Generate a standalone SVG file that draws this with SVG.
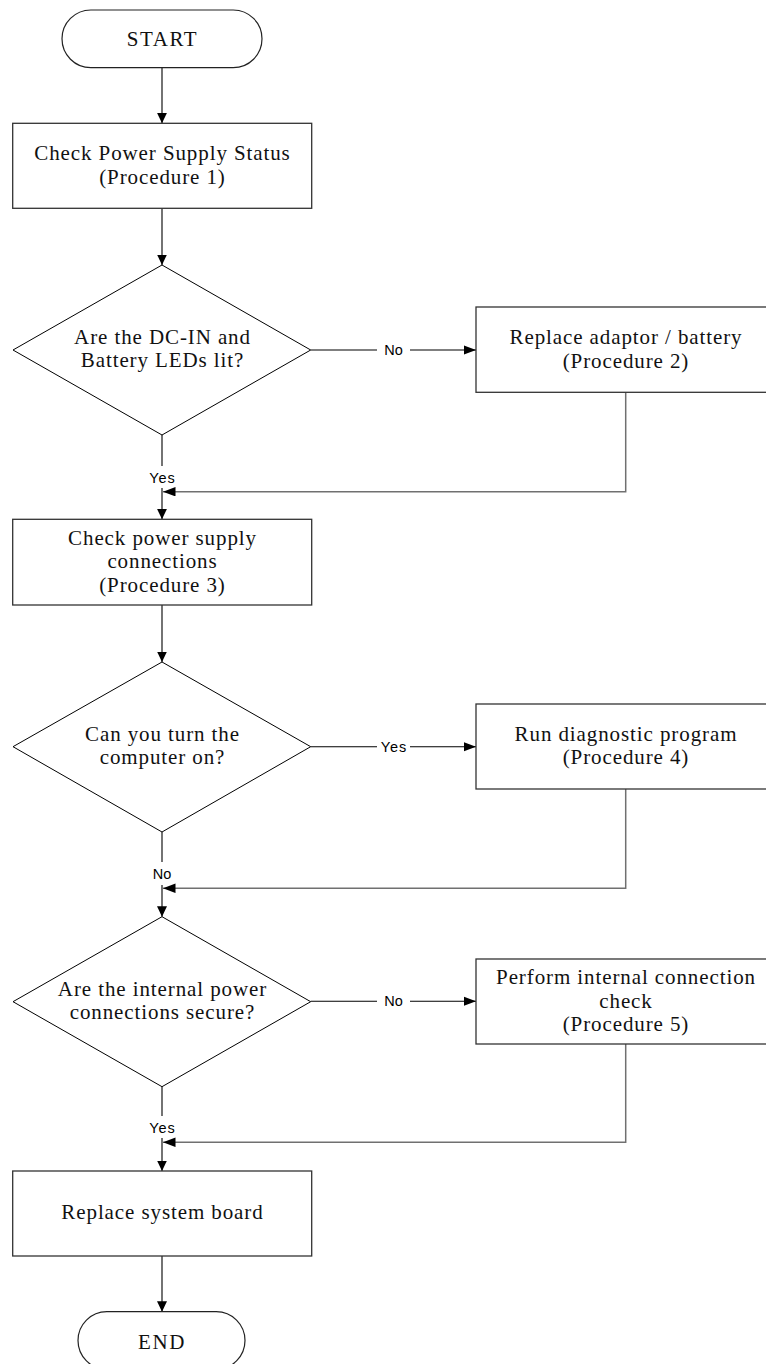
<svg xmlns="http://www.w3.org/2000/svg" width="766" height="1364" viewBox="0 0 766 1364">
<defs>
<marker id="arrV" markerUnits="userSpaceOnUse" markerWidth="11" markerHeight="11" refX="10.5" refY="5" orient="auto"><path d="M0,0 L10.5,5 L0,10 z" fill="#000"/></marker>
<marker id="arrH" markerUnits="userSpaceOnUse" markerWidth="13" markerHeight="10" refX="12.5" refY="4.75" orient="auto"><path d="M0,0 L12.5,4.75 L0,9.5 z" fill="#000"/></marker>
</defs>
<style>
.box{fill:#fff;stroke:#333;stroke-width:1.3}
.dia{fill:#fff;stroke:#000;stroke-width:1}
.term{fill:#fff;stroke:#222;stroke-width:1.2}
.t{font-family:"Liberation Serif","Times New Roman",serif;font-size:21px;letter-spacing:0.9px;fill:#111;text-anchor:middle}
.lb{font-family:"Liberation Sans",Arial,sans-serif;font-size:14.5px;fill:#000;text-anchor:middle}
.c{fill:none;stroke:#000;stroke-width:1.1}
.r{fill:none;stroke:#707070;stroke-width:1.5}
</style>
<rect width="766" height="1364" fill="#fff"/>
<g id="connectors">
<line class="c" x1="162" y1="67.7" x2="162" y2="123.3" marker-end="url(#arrV)"/>
<line class="c" x1="162" y1="208.3" x2="162" y2="265" marker-end="url(#arrV)"/>
<line class="c" x1="310.7" y1="350" x2="377" y2="350"/>
<line class="c" x1="410" y1="350" x2="476" y2="350" marker-end="url(#arrH)"/>
<text class="lb" x="393.5" y="355.2">No</text>
<line class="c" x1="162" y1="435" x2="162" y2="466"/>
<text class="lb" x="162.5" y="482.7" style="letter-spacing:1px">Yes</text>
<line class="c" x1="162" y1="488" x2="162" y2="519.3" marker-end="url(#arrV)"/>
<polyline class="r" points="625.7,392.3 625.7,491.7 163,491.7" marker-end="url(#arrH)"/>
<line class="c" x1="162" y1="605" x2="162" y2="662" marker-end="url(#arrV)"/>
<line class="c" x1="310.7" y1="746.7" x2="377" y2="746.7"/>
<line class="c" x1="410" y1="746.7" x2="476" y2="746.7" marker-end="url(#arrH)"/>
<text class="lb" x="394" y="751.9" style="letter-spacing:1px">Yes</text>
<line class="c" x1="162" y1="832" x2="162" y2="862"/>
<text class="lb" x="162" y="879.3">No</text>
<line class="c" x1="162" y1="885" x2="162" y2="916.7" marker-end="url(#arrV)"/>
<polyline class="r" points="625.7,789 625.7,888.3 163,888.3" marker-end="url(#arrH)"/>
<line class="c" x1="310.7" y1="1001.2" x2="377" y2="1001.2"/>
<line class="c" x1="410" y1="1001.2" x2="476" y2="1001.2" marker-end="url(#arrH)"/>
<text class="lb" x="393.5" y="1006.4">No</text>
<line class="c" x1="162" y1="1086.7" x2="162" y2="1116"/>
<text class="lb" x="162.5" y="1133.3" style="letter-spacing:1px">Yes</text>
<line class="c" x1="162" y1="1138" x2="162" y2="1171" marker-end="url(#arrV)"/>
<polyline class="r" points="625.7,1044 625.7,1142.3 163,1142.3" marker-end="url(#arrH)"/>
<line class="c" x1="162" y1="1256" x2="162" y2="1311.7" marker-end="url(#arrV)"/>
</g>
<g id="start">
<rect class="term" x="62" y="10" width="200" height="57.7" rx="28.85"/>
<text class="t" x="162.5" y="45.7" style="letter-spacing:1.6px">START</text>
</g>
<g id="box1">
<rect class="box" x="12.7" y="123.3" width="299" height="85"/>
<text class="t" x="162.5" y="160">Check Power Supply Status</text>
<text class="t" x="162.5" y="184">(Procedure 1)</text>
</g>
<g id="dec1">
<polygon class="dia" points="162,265 310.7,350 162,435 13,350"/>
<text class="t" x="162.5" y="344">Are the DC-IN and</text>
<text class="t" x="162.5" y="367.3">Battery LEDs lit?</text>
</g>
<g id="box2">
<rect class="box" x="476" y="307" width="299" height="85.3"/>
<text class="t" x="626" y="344">Replace adaptor / battery</text>
<text class="t" x="626" y="367.7">(Procedure 2)</text>
</g>
<g id="box3">
<rect class="box" x="12.7" y="519.3" width="299" height="85.7"/>
<text class="t" x="162.5" y="545">Check power supply</text>
<text class="t" x="162.5" y="568.3">connections</text>
<text class="t" x="162.5" y="591.7">(Procedure 3)</text>
</g>
<g id="dec2">
<polygon class="dia" points="162,662 310.7,746.7 162,832 13,746.7"/>
<text class="t" x="162.5" y="740.7">Can you turn the</text>
<text class="t" x="162.5" y="764">computer on?</text>
</g>
<g id="box4">
<rect class="box" x="476" y="704" width="299" height="85"/>
<text class="t" x="626" y="740.7">Run diagnostic program</text>
<text class="t" x="626" y="764.3">(Procedure 4)</text>
</g>
<g id="dec3">
<polygon class="dia" points="162,916.7 310.7,1001.7 162,1086.7 13,1001.7"/>
<text class="t" x="162.5" y="996">Are the internal power</text>
<text class="t" x="162.5" y="1019.3">connections secure?</text>
</g>
<g id="box5">
<rect class="box" x="476" y="959" width="299" height="85"/>
<text class="t" x="626" y="984.3">Perform internal connection</text>
<text class="t" x="626" y="1007.6">check</text>
<text class="t" x="626" y="1031">(Procedure 5)</text>
</g>
<g id="box6">
<rect class="box" x="12.7" y="1171" width="299" height="85"/>
<text class="t" x="162.5" y="1219.3">Replace system board</text>
</g>
<g id="end">
<rect class="term" x="78" y="1311.7" width="167" height="57.7" rx="28.85"/>
<text class="t" x="162" y="1348.5" style="letter-spacing:1.6px">END</text>
</g>
</svg>
